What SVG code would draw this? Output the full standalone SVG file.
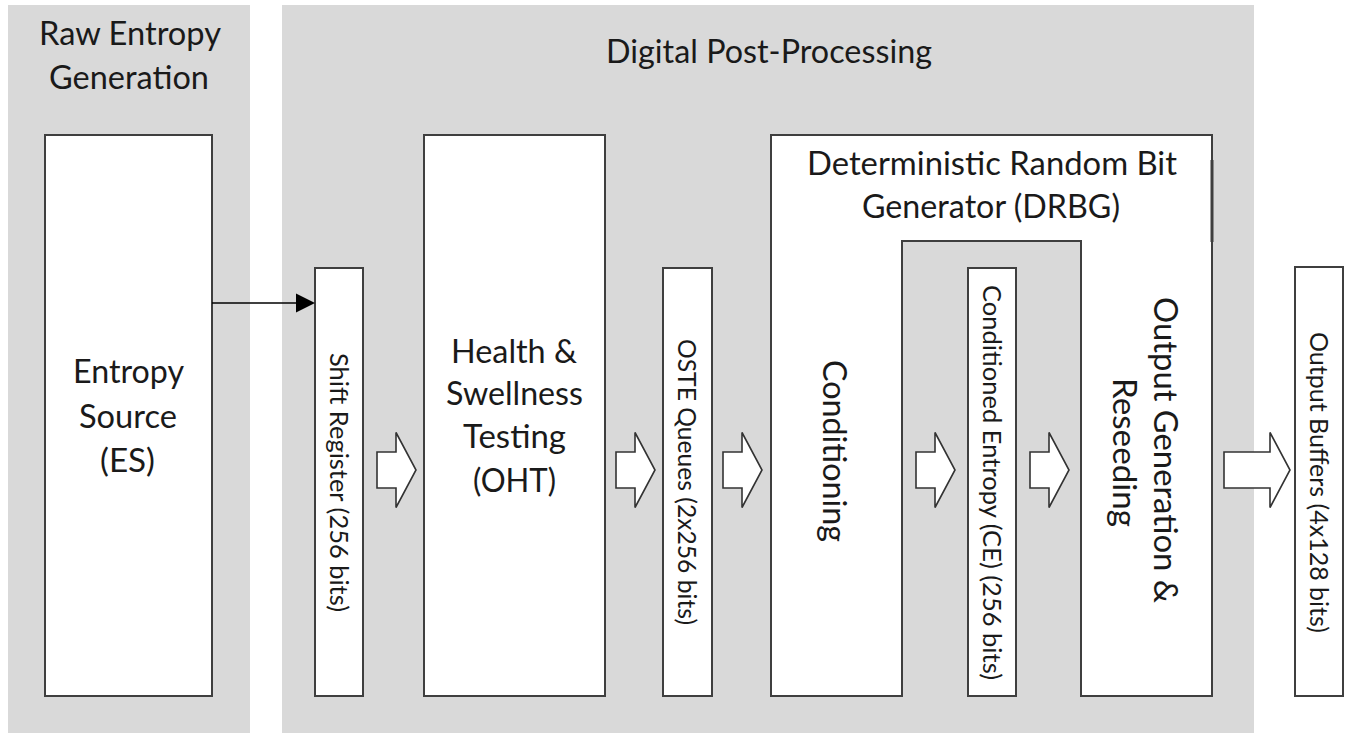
<svg xmlns="http://www.w3.org/2000/svg" width="1345" height="735" viewBox="0 0 1345 735">
  <style>
    .panel { fill: #d9d9d9; }
    .box { fill: #ffffff; stroke: #3f3f3f; stroke-width: 2; }
    .lbl { font-family: Lato, "Liberation Sans", sans-serif; font-size: 32px; fill: #1a1a1a; }
    .sm { font-family: Lato, "Liberation Sans", sans-serif; font-size: 25px; fill: #1a1a1a; }
    .blk { fill: #ffffff; stroke: #333333; stroke-width: 1.6; stroke-linejoin: miter; }
  </style>
  <defs>
    <!-- hollow block arrow: shaft from x=0, head from x=19, tip at x=39 -->
    <path id="blockArrow" d="M0,-18 H19 V-37.5 L39,0 L19,37.5 V18 H0 Z"/>
  </defs>

  <!-- stage backgrounds -->
  <g id="raw-entropy-generation">
    <rect class="panel" x="8" y="5" width="242" height="728"/>
    <text class="lbl" x="39" y="45" textLength="182" lengthAdjust="spacingAndGlyphs">Raw Entropy</text>
    <text class="lbl" x="49" y="89" textLength="160" lengthAdjust="spacingAndGlyphs">Generation</text>
  </g>
  <g id="digital-post-processing">
    <rect class="panel" x="282" y="5" width="972" height="728"/>
    <text class="lbl" x="606" y="63" textLength="326" lengthAdjust="spacingAndGlyphs">Digital Post-Processing</text>
  </g>

  <!-- blocks -->
  <g id="entropy-source">
    <rect class="box" x="45" y="135" width="167" height="561"/>
    <text class="lbl" x="73" y="383" textLength="111" lengthAdjust="spacingAndGlyphs">Entropy</text>
    <text class="lbl" x="79" y="428" textLength="98" lengthAdjust="spacingAndGlyphs">Source</text>
    <text class="lbl" x="100" y="472" textLength="55" lengthAdjust="spacingAndGlyphs">(ES)</text>
  </g>

  <g id="shift-register">
    <rect class="box" x="315" y="268" width="48" height="428"/>
    <text class="sm" transform="translate(330,353) rotate(90)" textLength="259" lengthAdjust="spacingAndGlyphs">Shift Register (256 bits)</text>
  </g>

  <g id="health-testing">
    <rect class="box" x="424" y="135" width="181" height="561"/>
    <text class="lbl" x="451" y="363" textLength="126" lengthAdjust="spacingAndGlyphs">Health &amp;</text>
    <text class="lbl" x="446" y="405" textLength="137" lengthAdjust="spacingAndGlyphs">Swellness</text>
    <text class="lbl" x="463" y="448" textLength="103" lengthAdjust="spacingAndGlyphs">Testing</text>
    <text class="lbl" x="473" y="492" textLength="83" lengthAdjust="spacingAndGlyphs">(OHT)</text>
  </g>

  <g id="oste-queues">
    <rect class="box" x="663" y="268" width="49" height="428"/>
    <text class="sm" transform="translate(678,339) rotate(90)" textLength="286" lengthAdjust="spacingAndGlyphs">OSTE Queues (2x256 bits)</text>
  </g>

  <g id="drbg">
    <path class="box" d="M771,135 H1212 V696 H1081 V241 H902 V696 H771 Z"/>
    <line x1="1212" y1="160" x2="1212" y2="242" stroke="#3f3f3f" stroke-width="3"/>
    <text class="lbl" x="807" y="175" textLength="370" lengthAdjust="spacingAndGlyphs">Deterministic Random Bit</text>
    <text class="lbl" x="862" y="218" textLength="258" lengthAdjust="spacingAndGlyphs">Generator (DRBG)</text>
    <text class="lbl" transform="translate(823,360) rotate(90)" textLength="182" lengthAdjust="spacingAndGlyphs">Conditioning</text>
    <text class="lbl" transform="translate(1154,297) rotate(90)" textLength="306" lengthAdjust="spacingAndGlyphs">Output Generation  &amp;</text>
    <text class="lbl" transform="translate(1113,378) rotate(90)" textLength="149" lengthAdjust="spacingAndGlyphs">Reseeding</text>
  </g>

  <g id="conditioned-entropy">
    <rect class="box" x="968" y="268" width="48" height="428"/>
    <text class="sm" transform="translate(983,285) rotate(90)" textLength="395" lengthAdjust="spacingAndGlyphs">Conditioned Entropy (CE) (256 bits)</text>
  </g>

  <g id="output-buffers">
    <rect class="box" x="1295" y="267" width="48" height="429"/>
    <text class="sm" transform="translate(1310,332) rotate(90)" textLength="301" lengthAdjust="spacingAndGlyphs">Output Buffers (4x128 bits)</text>
  </g>

  <!-- data flow -->
  <g id="connectors">
    <line x1="212" y1="303" x2="297" y2="303" stroke="#000000" stroke-width="1.6"/>
    <polygon points="296,293.5 315,303 296,312.5" fill="#000000"/>
    <use href="#blockArrow" class="blk" x="377" y="470"/>
    <use href="#blockArrow" class="blk" x="616" y="470"/>
    <use href="#blockArrow" class="blk" x="723" y="470"/>
    <use href="#blockArrow" class="blk" x="916" y="470"/>
    <use href="#blockArrow" class="blk" x="1030" y="470"/>
    <path class="blk" d="M1224,452 H1270 V432.5 L1290,470 L1270,507.5 V488 H1224 Z"/>
  </g>
</svg>
